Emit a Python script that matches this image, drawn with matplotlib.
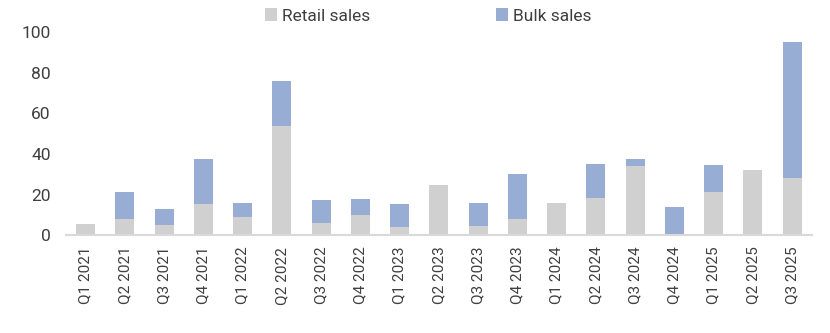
import matplotlib
matplotlib.use("Agg")
import matplotlib.pyplot as plt
from matplotlib.patches import Patch
import numpy as np

quarters = ["Q1 2021", "Q2 2021", "Q3 2021", "Q4 2021",
            "Q1 2022", "Q2 2022", "Q3 2022", "Q4 2022",
            "Q1 2023", "Q2 2023", "Q3 2023", "Q4 2023",
            "Q1 2024", "Q2 2024", "Q3 2024", "Q4 2024",
            "Q1 2025", "Q2 2025", "Q3 2025"]
retail_sales = [5.6, 8.0, 5.1, 15.4, 9.0, 53.8, 6.1, 10.0, 4.1, 24.8,
                4.6, 8.0, 15.9, 18.4, 34.1, 0.7, 21.3, 32.1, 28.2]
bulk_sales = [0.0, 13.3, 7.9, 22.1, 6.9, 22.1, 11.3, 7.9, 11.3, 0.0,
              11.3, 22.2, 0.0, 16.7, 3.4, 13.2, 13.3, 0.0, 66.9]
y_ticks = [0, 20, 40, 60, 80, 100]

retail_color = "#D0D0D0"
bulk_color = "#98ADD4"
text_color = "#3F3F3F"

plt.rcParams["font.family"] = ["Roboto", "DejaVu Sans"]

fig = plt.figure(figsize=(8.3, 3.33), dpi=100)
ax = fig.add_axes([0.0795, 0.2928, 0.8985, 0.6112])

x = np.arange(len(quarters))
ax.bar(x, retail_sales, width=0.48, color=retail_color, zorder=2)
ax.bar(x, bulk_sales, width=0.48, bottom=retail_sales, color=bulk_color, zorder=2)

ax.set_xlim(-0.5, len(quarters) - 0.5)
ax.set_ylim(0, 100)
ax.set_yticks(y_ticks)
ax.set_yticklabels([str(t) for t in y_ticks], fontsize=12.5, color=text_color)
ax.set_xticks(x)
ax.set_xticklabels(quarters, rotation=90, fontsize=11, color=text_color)
ax.tick_params(axis="both", length=0)
ax.tick_params(axis="y", pad=11)
ax.tick_params(axis="x", pad=8)

for side in ["top", "right", "left"]:
    ax.spines[side].set_visible(False)
ax.spines["bottom"].set_color("#D9D9D9")
ax.spines["bottom"].set_linewidth(1.5)

handles = [Patch(facecolor=retail_color, edgecolor="none", label="Retail sales"),
           Patch(facecolor=bulk_color, edgecolor="none", label="Bulk sales")]
leg = fig.legend(handles=handles, loc="center", bbox_to_anchor=(0.516, 0.952),
                 ncol=2, frameon=False, fontsize=12.5, handlelength=0.7,
                 handleheight=0.7, handletextpad=0.3, columnspacing=7.2)
for t in leg.get_texts():
    t.set_color(text_color)

fig.savefig("out.png", dpi=100)
